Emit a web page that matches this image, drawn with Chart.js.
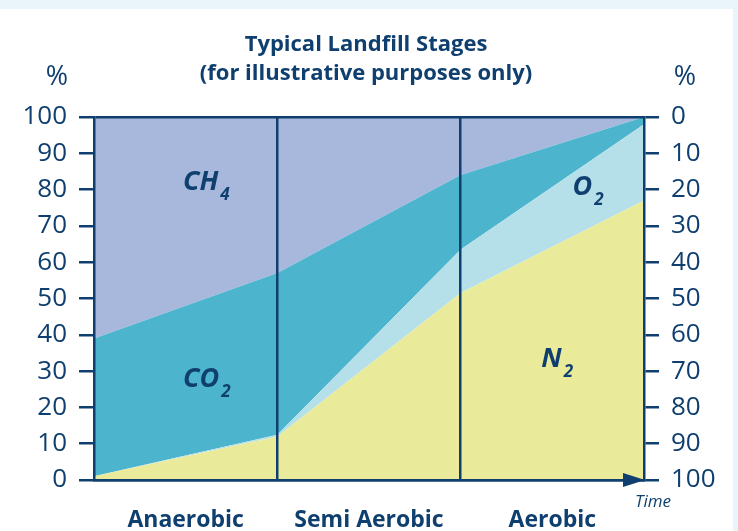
<!DOCTYPE html>
<html>
<head>
<meta charset="utf-8">
<script src="https://cdn.jsdelivr.net/npm/chart.js@4/dist/chart.umd.min.js"></script>
<style>
  body { margin: 0; background: #eaf4fb; }
  canvas { display: block; }
</style>
</head>
<body>
<canvas id="canvas" width="738" height="531"></canvas>
<script>
// time points: start, end of anaerobic, end of semi aerobic, end
let timePoints = [0, 1, 2, 3];
let stages = ['Anaerobic', 'Semi Aerobic', 'Aerobic'];

// gas shares in % (stacked bottom to top)
let n2 = [1, 12, 51.5, 77];
let o2 = [0, 0.5, 12, 21];
let co2 = [38, 44.5, 20.5, 2];
let ch4 = [61, 43, 16, 0];

let navy = '#0f3f6f';
let font = "'Open Sans', sans-serif";

// gas name labels, placed in data coordinates
let gasLabels = [
  { main: 'CH', sub: '4', x: 0.485, y: 80 },
  { main: 'CO', sub: '2', x: 0.485, y: 25.6 },
  { main: 'O', sub: '2', x: 2.61, y: 78.5 },
  { main: 'N', sub: '2', x: 2.44, y: 31 }
];

function pts(values) {
  let out = [];
  for (let i = 0; i < values.length; i++) {
    out.push({ x: timePoints[i], y: values[i] });
  }
  return out;
}

let decor = {
  id: 'decor',
  beforeDraw: function(chart) {
    let c = chart.ctx;
    c.save();
    c.fillStyle = '#eaf4fb';
    c.fillRect(0, 0, chart.width, chart.height);
    c.fillStyle = '#ffffff';
    c.fillRect(0, 9, 733, chart.height - 9);
    c.restore();
  },
  afterDraw: function(chart) {
    let c = chart.ctx;
    let area = chart.chartArea;
    let xs = chart.scales.x;
    let ys = chart.scales.y;
    c.save();
    c.fillStyle = navy;
    c.textAlign = 'center';
    c.textBaseline = 'alphabetic';
    c.font = 'bold 22px ' + font;
    c.fillText('Typical Landfill Stages', 366, 51);
    c.fillText('(for illustrative purposes only)', 366, 80);
    c.font = '27px ' + font;
    c.fillText('%', 57, 85);
    c.fillText('%', 685, 85);
    c.font = 'italic 17px ' + font;
    c.fillText('Time', 653, 507);

    // arrow head on the time axis
    c.beginPath();
    c.moveTo(area.right + 1, area.bottom);
    c.lineTo(area.right - 21, area.bottom - 7);
    c.lineTo(area.right - 21, area.bottom + 7);
    c.closePath();
    c.fill();

    c.textAlign = 'left';
    for (let i = 0; i < gasLabels.length; i++) {
      let g = gasLabels[i];
      let px = xs.getPixelForValue(g.x);
      let py = ys.getPixelForValue(g.y);
      c.font = 'italic bold 27px ' + font;
      c.fillText(g.main, px, py);
      let w = c.measureText(g.main).width;
      c.font = 'italic bold 17px ' + font;
      c.fillText(g.sub, px + w + 2, py + 10);
    }
    c.restore();
  }
};

let tickFont = { family: font, size: 26 };

let options = {
  type: 'line',
  data: {
    datasets: [
      { label: 'N2', data: pts(n2), backgroundColor: '#e9eb9b', fill: 'origin' },
      { label: 'O2', data: pts(o2), backgroundColor: '#b6e0e9', fill: '-1' },
      { label: 'CO2', data: pts(co2), backgroundColor: '#4db4cd', fill: '-1' },
      { label: 'CH4', data: pts(ch4), backgroundColor: '#a8b8dc', fill: '-1' }
    ]
  },
  options: {
    responsive: false,
    animation: false,
    layout: { padding: { top: 117, left: 0, right: 0, bottom: 0 } },
    elements: {
      line: { tension: 0, borderWidth: 0, borderColor: 'transparent' },
      point: { radius: 0 }
    },
    plugins: {
      legend: { display: false },
      tooltip: { enabled: false }
    },
    scales: {
      x: {
        type: 'linear', min: 0, max: 3,
        afterBuildTicks: function(s) {
          s.ticks = [0, 0.5, 1, 1.5, 2, 2.5, 3].map(function(v) { return { value: v }; });
        },
        ticks: {
          autoSkip: false, maxRotation: 0, padding: 27, color: navy,
          font: { family: font, size: 23, weight: 'bold' },
          callback: function(v) { return v % 1 === 0.5 ? stages[Math.floor(v)] : ''; }
        },
        grid: {
          z: 1,
          color: function(c) { return c.tick && (c.tick.value === 1 || c.tick.value === 2) ? navy : 'transparent'; },
          lineWidth: 2.5, drawTicks: false
        },
        border: { color: navy, width: 2.5, z: 2 },
        afterFit: function(s) { s.height = 51; }
      },
      y: {
        position: 'left', stacked: true, min: 0, max: 100,
        ticks: { stepSize: 10, padding: 12, color: navy, font: tickFont },
        grid: {
          z: 1,
          color: function(c) { return c.tick && (c.tick.value === 0 || c.tick.value === 100) ? navy : 'transparent'; },
          tickColor: navy, tickLength: 15, lineWidth: 2.5
        },
        border: { color: navy, width: 2.5, z: 2 },
        afterFit: function(s) { s.width = 94; }
      },
      y2: {
        position: 'right', reverse: true, min: 0, max: 100,
        ticks: { stepSize: 10, padding: 12, color: navy, font: tickFont },
        grid: { z: 1, drawOnChartArea: false, tickColor: navy, tickLength: 15, lineWidth: 2.5 },
        border: { color: navy, width: 2.5, z: 2 },
        afterFit: function(s) { s.width = 94; }
      }
    }
  },
  plugins: [decor]
};

let chart = new Chart(document.getElementById('canvas'), options);
</script>
</body>
</html>
